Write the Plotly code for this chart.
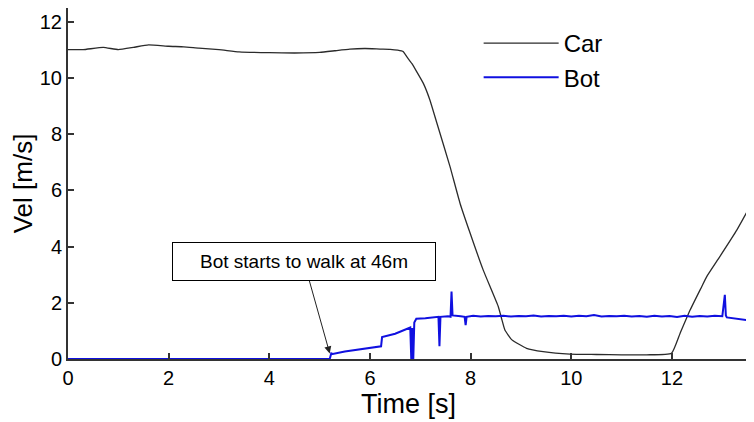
import plotly.graph_objects as go

# ── datos ───────────────────────────────────────────────────────────────────
car_t = [0, 0.3, 0.7, 1.0, 1.3, 1.6, 2.0, 2.3, 2.6, 3.0, 3.4, 4.0, 4.5, 5.0, 5.3,
         5.6, 5.9, 6.2, 6.4, 6.55, 6.66, 6.73, 6.83, 6.93, 7.06, 7.19, 7.33, 7.59,
         7.79, 7.99, 8.25, 8.55, 8.62, 8.68, 8.82, 9.11, 9.44, 9.97, 10.5, 11.0,
         11.5, 11.99, 12.16, 12.36, 12.59, 12.69, 12.95, 13.29, 13.53]
car_v = [11.0, 11.0, 11.08, 11.0, 11.08, 11.17, 11.12, 11.1, 11.05, 11.0, 10.92,
         10.89, 10.88, 10.9, 10.96, 11.02, 11.04, 11.02, 11.01, 10.98, 10.93, 10.75,
         10.51, 10.21, 9.8, 9.21, 8.38, 6.84, 5.53, 4.47, 3.16, 1.86, 1.4, 1.03,
         0.68, 0.38, 0.26, 0.17, 0.16, 0.15, 0.15, 0.2, 0.91, 1.74, 2.57, 2.93,
         3.64, 4.59, 5.36]

bot_t = [0, 5.20, 5.23, 5.26, 5.5, 5.8, 6.15, 6.22, 6.24, 6.5,
         6.8, 6.82, 6.84, 6.86, 6.88, 6.90, 6.92, 7.1, 7.3, 7.36,
         7.38, 7.40, 7.55, 7.60, 7.62, 7.64, 7.8, 7.88, 7.90, 7.92,
         8.05, 8.2, 8.35, 8.5, 8.65, 8.8, 8.95, 9.1, 9.25, 9.4,
         9.55, 9.7, 9.85, 10.0, 10.15, 10.3, 10.45, 10.6, 10.75, 10.9,
         11.05, 11.2, 11.35, 11.5, 11.65, 11.8, 11.95, 12.1, 12.25, 12.4,
         12.55, 12.7, 12.85, 13.0, 13.05, 13.07, 13.09, 13.2, 13.35, 13.5]
bot_v = [0, 0, 0.2, 0.18, 0.27, 0.35, 0.43, 0.45, 0.78, 0.9,
         1.12, 0.0, 1.1, 0.0, 1.3, 1.4, 1.43, 1.45, 1.48, 1.5,
         0.45, 1.5, 1.52, 1.5, 2.4, 1.55, 1.52, 1.5, 1.2, 1.5,
         1.54, 1.51, 1.53, 1.52, 1.54, 1.51, 1.53, 1.52, 1.55, 1.51,
         1.53, 1.52, 1.54, 1.51, 1.54, 1.52, 1.56, 1.51, 1.53, 1.52,
         1.54, 1.51, 1.53, 1.5, 1.54, 1.51, 1.53, 1.49, 1.54, 1.5,
         1.53, 1.51, 1.54, 1.52, 2.28, 1.55, 1.48, 1.45, 1.42, 1.38]

x_ticks = [0, 2, 4, 6, 8, 10, 12]
y_ticks = [0, 2, 4, 6, 8, 10, 12]

FUENTE = "Liberation Sans, Arial, sans-serif"

fig = go.Figure()
fig.add_trace(go.Scatter(x=car_t, y=car_v, mode="lines", name="Car",
                         line=dict(color="#2b2b2b", width=1.3, shape="spline",
                                   smoothing=0.4)))
fig.add_trace(go.Scatter(x=bot_t, y=bot_v, mode="lines", name="Bot",
                         line=dict(color="#1010e0", width=2)))

fig.add_annotation(
    x=5.2, y=0.2, ax=4.69, ay=3.45, axref="x", ayref="y",
    text="Bot starts to walk at 46m",
    showarrow=True, arrowhead=2, arrowsize=1.4, arrowwidth=1, arrowcolor="#222",
    font=dict(size=19, color="black", family=FUENTE),
    bgcolor="white", bordercolor="black", borderwidth=1, borderpad=6,
    width=250, height=25,
)

eje = dict(
    showline=True, linecolor="#333", linewidth=2, mirror=False,
    ticks="inside", ticklen=6, tickcolor="#333", tickwidth=1.5,
    showgrid=False, zeroline=False, automargin=False,
    tickfont=dict(size=20, color="black", family=FUENTE),
)

# la página añade 8 px de margen al body: se compensa en tamaño y márgenes
fig.update_layout(
    width=746, height=414,
    margin=dict(l=60, r=5, t=0, b=63),
    paper_bgcolor="white", plot_bgcolor="white",
    font=dict(family=FUENTE, color="black"),
    xaxis=dict(**eje, range=[0, 13.53], tickvals=x_ticks,
               title=dict(text="Time [s]", font=dict(size=27), standoff=0)),
    yaxis=dict(**eje, range=[0, 12.48], tickvals=y_ticks,
               title=dict(text="Vel [m/s]", font=dict(size=26), standoff=11)),
    showlegend=True,
    legend=dict(x=0.603, y=0.963, xanchor="left", yanchor="top",
                font=dict(size=24, family=FUENTE), bgcolor="rgba(0,0,0,0)",
                itemwidth=75),
)

fig.write_html("out.html")
